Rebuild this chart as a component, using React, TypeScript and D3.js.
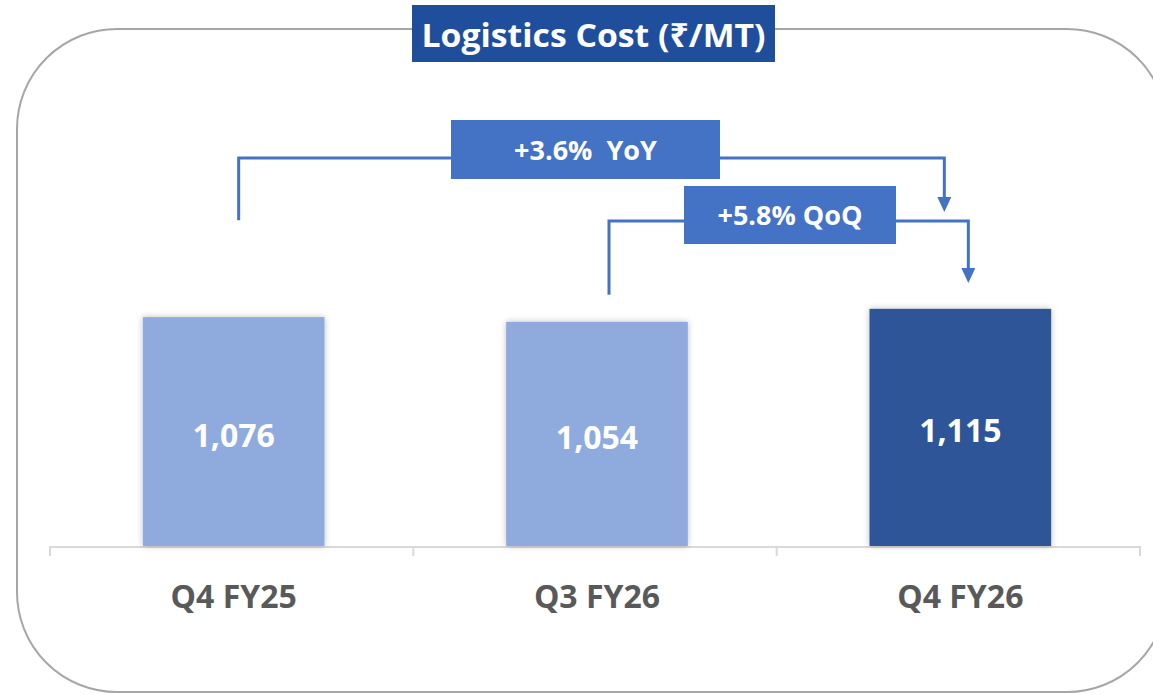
import React from 'react'
import * as d3 from 'd3'

// chart data
const categories = ['Q4 FY25', 'Q3 FY26', 'Q4 FY26']
const values = [1076, 1054, 1115]
const highlighted = [false, false, true]
const valueLabels = ['1,076', '1,054', '1,115']
const title = 'Logistics Cost (₹/MT)'
const yoyLabel = '+3.6%  YoY'
const qoqLabel = '+5.8% QoQ'

const W = 1153
const H = 694
const FONT = '"Open Sans", "Noto Sans", sans-serif'

export default function App() {
  const baseY = 546

  const x = d3.scaleBand<string>()
    .domain(categories)
    .range([52, 1142])
    .paddingInner(0.5)
    .paddingOuter(0.25)

  const y = d3.scaleLinear()
    .domain([0, 1200])
    .range([baseY, baseY - 1200 * 0.2127])

  const cx = (i: number) => (x(categories[i]) ?? 0) + x.bandwidth() / 2
  const bw = x.bandwidth()

  // tick marks at category boundaries
  const tickXs = d3.range(categories.length + 1).map(i => 50 + i * (1090 / categories.length))

  // connector paths (elbow + arrow)
  const yoyStart = cx(0) + 5
  const yoyEnd = cx(2) - 16
  const qoqStart = cx(1) + 12
  const qoqEnd = cx(2) + 8
  const yoyLine = d3.path()
  yoyLine.moveTo(yoyStart, y(values[0]) - 97)
  yoyLine.lineTo(yoyStart, 158)
  yoyLine.lineTo(yoyEnd, 158)
  yoyLine.lineTo(yoyEnd, 198)
  const qoqLine = d3.path()
  qoqLine.moveTo(qoqStart, y(values[1]) - 27)
  qoqLine.lineTo(qoqStart, 221)
  qoqLine.lineTo(qoqEnd, 221)
  qoqLine.lineTo(qoqEnd, 268)

  const arrow = (ax: number, tipY: number) =>
    `M${ax - 7},${tipY - 15} L${ax + 7},${tipY - 15} L${ax},${tipY} Z`

  const blue = '#4472C4'

  return (
    <svg width={W} height={H} style={{ position: 'absolute', left: 0, top: 0, background: '#fff' }}>
      <defs>
        <filter id="shadow" x="-10%" y="-10%" width="120%" height="120%">
          <feDropShadow dx="0" dy="0" stdDeviation="3" floodColor="#000" floodOpacity="0.25" />
        </filter>
      </defs>

      {/* frame */}
      <rect x={17} y={29} width={1150} height={663} rx={100} ry={100}
        fill="none" stroke="#a6a6a6" strokeWidth={2} />

      {/* title */}
      <rect x={412} y={5} width={363} height={57} fill="#1F4E9D" />
      <text x={593.5} y={47} textAnchor="middle" fill="#fff" fontFamily={FONT}
        fontWeight={700} fontSize={33} textLength={344} lengthAdjust="spacingAndGlyphs">{title}</text>

      {/* axis */}
      <line x1={50} x2={1140} y1={baseY + 1} y2={baseY + 1} stroke="#d9d9d9" strokeWidth={2} />
      {tickXs.map((tx, i) => (
        <line key={i} x1={tx} x2={tx} y1={baseY} y2={baseY + 10} stroke="#d9d9d9" strokeWidth={2} />
      ))}

      {/* bars */}
      {values.map((v, i) => (
        <g key={categories[i]}>
          <rect x={x(categories[i])} y={y(v)} width={bw} height={baseY - y(v)}
            fill={highlighted[i] ? '#2F5597' : '#8FAADC'} filter="url(#shadow)" />
          <text x={cx(i)} y={(y(v) + baseY) / 2 + 15} textAnchor="middle" fill="#fff"
            fontFamily={FONT} fontWeight={700} fontSize={32}>{valueLabels[i]}</text>
          <text x={cx(i)} y={608} textAnchor="middle" fill="#595959"
            fontFamily={FONT} fontWeight={700} fontSize={32}>{categories[i]}</text>
        </g>
      ))}

      {/* YoY connector */}
      <path d={yoyLine.toString()} fill="none" stroke={blue} strokeWidth={3} />
      <path d={arrow(yoyEnd, 212)} fill={blue} />
      <rect x={451} y={120} width={269} height={59} fill={blue} />
      <text x={585.5} y={160} textAnchor="middle" fill="#fff" fontFamily={FONT}
        fontWeight={700} fontSize={27} style={{ whiteSpace: 'pre' }}>{yoyLabel}</text>

      {/* QoQ connector */}
      <path d={qoqLine.toString()} fill="none" stroke={blue} strokeWidth={3} />
      <path d={arrow(qoqEnd, 283)} fill={blue} />
      <rect x={684} y={186} width={212} height={58} fill={blue} />
      <text x={790} y={225} textAnchor="middle" fill="#fff" fontFamily={FONT}
        fontWeight={700} fontSize={27}>{qoqLabel}</text>
    </svg>
  )
}
